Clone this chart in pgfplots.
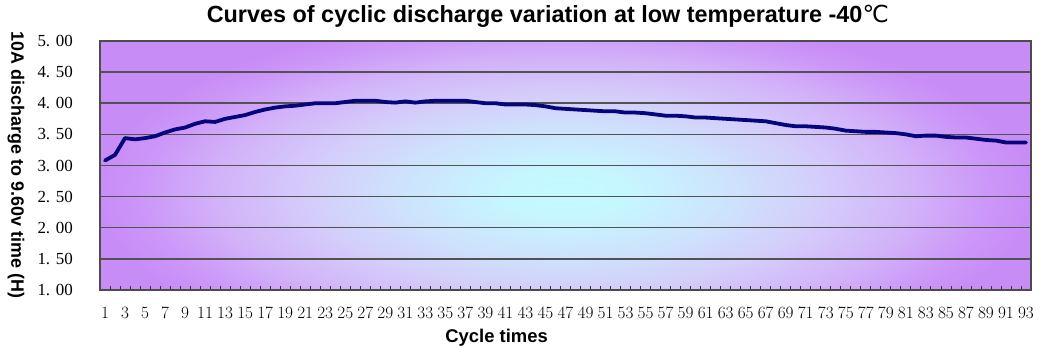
\documentclass[border=0pt]{standalone}
\usepackage{graphicx}
\usepackage{pgfplots}
\pgfplotsset{compat=1.18}
\usepackage{fontspec}
\setmainfont{Liberation Sans}
\newfontfamily\xtickfont[FakeStretch=1.15]{Liberation Serif}
\newfontfamily\ytickfont{Liberation Serif}
\newfontfamily\dejavu{DejaVu Sans}
\definecolor{bg0}{RGB}{195,250,255}
\definecolor{bg1}{RGB}{198,246,255}
\definecolor{bg2}{RGB}{205,228,253}
\definecolor{bg3}{RGB}{212,205,250}
\definecolor{bg4}{RGB}{210,178,249}
\definecolor{bg5}{RGB}{204,152,248}
\definecolor{bg6}{RGB}{200,140,247}
\definecolor{navyline}{RGB}{5,5,125}
\pgfdeclareradialshading{bgshade}{\pgfpointorigin}{color(0bp)=(bg0); color(7bp)=(bg1); color(17bp)=(bg2); color(27.5bp)=(bg3); color(37.5bp)=(bg4); color(45bp)=(bg5); color(50bp)=(bg6)}

\pgfplotstableread{
x y
1 3.08
2 3.17
3 3.44
4 3.42
5 3.44
6 3.47
7 3.53
8 3.58
9 3.61
10 3.67
11 3.71
12 3.70
13 3.75
14 3.78
15 3.81
16 3.86
17 3.90
18 3.93
19 3.95
20 3.96
21 3.98
22 4.00
23 4.00
24 4.00
25 4.02
26 4.04
27 4.04
28 4.04
29 4.02
30 4.01
31 4.03
32 4.01
33 4.03
34 4.04
35 4.04
36 4.04
37 4.04
38 4.02
39 4.00
40 4.00
41 3.98
42 3.98
43 3.98
44 3.97
45 3.95
46 3.92
47 3.91
48 3.90
49 3.89
50 3.88
51 3.87
52 3.87
53 3.85
54 3.85
55 3.84
56 3.82
57 3.80
58 3.80
59 3.79
60 3.77
61 3.77
62 3.76
63 3.75
64 3.74
65 3.73
66 3.72
67 3.71
68 3.68
69 3.65
70 3.63
71 3.63
72 3.62
73 3.61
74 3.59
75 3.56
76 3.55
77 3.54
78 3.54
79 3.53
80 3.52
81 3.50
82 3.47
83 3.48
84 3.48
85 3.46
86 3.45
87 3.45
88 3.43
89 3.41
90 3.40
91 3.37
92 3.37
93 3.37
}\datatable

\begin{document}
\begin{tikzpicture}
\begin{scope}
\clip (0bp,0bp) rectangle (931bp,249bp);
\fill[bg6] (0bp,0bp) rectangle (931bp,249bp);
\node[inner sep=0pt, outer sep=0pt, anchor=center] at (465.5bp,97bp) {\scalebox{9.32}[3.6]{\pgfuseshading{bgshade}}};
\end{scope}
\begin{axis}[
  scale only axis, width=931bp, height=249bp,
  xmin=0.5, xmax=93.5, ymin=1, ymax=5,
  xtick={1,3,...,93},
  minor xtick={0.5,1.5,...,93.5},
  ytick={1,1.5,2,2.5,3,3.5,4,4.5,5},
  yticklabels={1. 00,1. 50,2. 00,2. 50,3. 00,3. 50,4. 00,4. 50,5. 00},
  xtick pos=bottom, ytick pos=left,
  tick align=inside,
  major tick length=0pt, minor tick length=4bp,
  tick style={black!80, line width=0.8bp},
  ymajorgrids,
  major grid style={black!68, line width=1.5bp},
  axis line style={black!70, line width=1.2bp},
  xticklabel style={font=\xtickfont\fontsize{16.5}{17}\selectfont, inner sep=0pt, anchor=north, yshift=-17.5bp},
  yticklabel style={font=\ytickfont\fontsize{17}{18}\selectfont, inner sep=0pt, anchor=east, xshift=-27bp},
  title={Curves of cyclic discharge variation at low temperature -40{\dejavu\mdseries ℃}},
  title style={at={(axis description cs:0.481,1.076)}, anchor=center, font=\fontsize{23.5}{26}\selectfont\bfseries},
  xlabel={Cycle times},
  xlabel style={at={(axis description cs:0.426,-0.193)}, anchor=center, font=\fontsize{18.5}{21}\selectfont\bfseries},
  ylabel={10A discharge to 9.60v time (H)},
  ylabel style={at={(axis description cs:-0.0902,0.502)}, anchor=center, rotate=180, font=\fontsize{18}{20}\selectfont\bfseries},
]
\addplot[navyline, line width=3.8bp, line join=round, line cap=round] table[x=x,y=y] {\datatable};
\end{axis}
\pgfresetboundingbox
\path[use as bounding box] (-100bp,-59bp) rectangle (944bp,290bp);
\end{tikzpicture}
\end{document}
